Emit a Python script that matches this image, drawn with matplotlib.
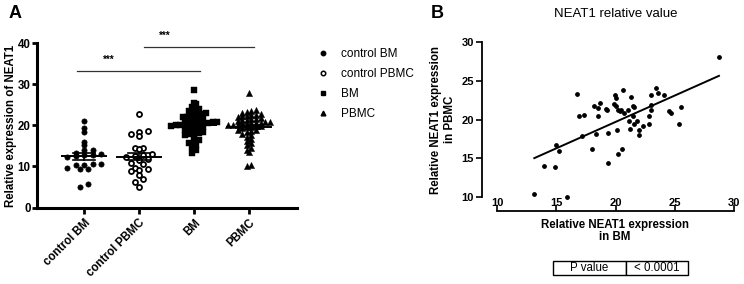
#!/usr/bin/python3

import numpy as np
import matplotlib
matplotlib.use("Agg")
import matplotlib.pyplot as plt
from matplotlib.lines import Line2D

#groups in panel A
groups = ["control BM", "control PBMC", "BM", "PBMC"]

ctrl_bm = [21.0, 19.3, 18.3, 16.0, 15.3, 14.1, 13.9, 13.2, 13.0, 12.9, 12.7,
           12.5, 12.3, 10.6, 10.5, 10.4, 10.3, 9.6, 9.5, 9.5, 5.8, 4.9]

ctrl_pbmc = [22.8, 18.6, 18.3, 18.0, 17.4, 14.5, 14.4, 14.3, 13.0, 12.8, 12.6,
             12.2, 11.8, 11.5, 10.8, 10.5, 9.6, 9.3, 9.2, 9.0, 7.9, 7.0, 6.2, 5.0]

bm = [28.7, 25.4, 25.2, 24.5, 24.0, 23.8, 23.5, 23.0, 22.8, 22.5, 22.3, 22.0,
      22.0, 21.8, 21.5, 21.3, 21.2, 21.0, 20.9, 20.8, 20.6, 20.5, 20.4, 20.3,
      20.2, 20.1, 20.0, 20.0, 19.8, 19.6, 19.5, 19.3, 19.0, 18.8, 18.5, 18.2,
      18.0, 17.8, 17.6, 17.3, 16.5, 16.0, 15.8, 15.2, 14.8, 14.0, 13.3]

pbmc = [28.0, 23.8, 23.5, 23.3, 23.0, 22.8, 22.6, 22.5, 22.3, 22.2, 22.0, 21.8,
        21.6, 21.5, 21.3, 21.2, 21.0, 20.9, 20.8, 20.7, 20.6, 20.5, 20.4, 20.3,
        20.2, 20.1, 20.0, 19.9, 19.8, 19.6, 19.5, 19.3, 19.0, 18.8, 18.6, 18.3,
        18.0, 17.6, 17.2, 16.8, 16.2, 15.8, 15.3, 14.5, 14.0, 13.5, 10.3, 10.0]

#panel B, NEAT1 in BM vs PBMC
neat_bm = [28.73, 16.78, 20.66, 19.98, 20.04, 18.2, 18.7, 18.5, 19.2, 19.3,
           19.9, 20.07, 21.3, 20.2, 20.4, 20.5, 20.7, 21.05, 21.45, 21.6,
           23.4, 23.6, 24.1, 23.0, 23.0, 23.0, 22.85, 24.5, 24.7, 25.5,
           25.4, 22.8, 22.3, 22.0, 22.0, 21.8, 21.6, 21.2, 21.1, 21.5,
           20.15, 19.4, 18.35, 18.0, 17.2, 16.95, 17.3, 18.55, 20.2, 20.55,
           19.4, 14.95, 15.26, 13.97, 14.9, 15.9, 13.15]
neat_pbmc = [28.1, 23.25, 23.8, 23.1, 22.8, 21.8, 22.1, 21.5, 21.4, 21.2,
             22.0, 21.8, 22.9, 21.2, 21.1, 21.2, 20.8, 21.2, 21.7, 21.6,
             24.1, 23.4, 23.1, 23.1, 21.9, 21.2, 20.5, 21.1, 20.8, 21.6,
             19.4, 19.4, 19.2, 18.7, 18.0, 19.8, 19.4, 18.8, 19.8, 20.5,
             18.6, 18.3, 18.1, 16.2, 17.9, 20.5, 20.6, 20.5, 15.6, 16.15,
             14.4, 16.7, 16.0, 14.0, 13.9, 10.0, 10.35]

ticks_a = [0, 10, 20, 30, 40]
ticks_b = [10, 15, 20, 25, 30]

plt.rcParams["font.family"] = ["Liberation Sans", "DejaVu Sans"]

#_____________________________________________________________________________
def main():

    fig = plt.figure(figsize=(7.44, 2.84), dpi=100)

    plot_a(fig)
    plot_b(fig)

    fig.text(15/744, 1-13/284, "A", fontsize=13, fontweight="bold", ha="center", va="center")
    fig.text(437/744, 1-13/284, "B", fontsize=13, fontweight="bold", ha="center", va="center")

    fig.savefig("out.png", dpi=100)
    plt.close()

#main

#_____________________________________________________________________________
def swarm(vals, h=1.2, s=8.5, xpx=55.):

    #graphpad-like scatter: points in the same y bin go side by side
    vals = np.asarray(vals, dtype=float)
    offs = np.zeros(len(vals))
    bins = np.floor(vals/h).astype(int)
    for b in np.unique(bins):
        idx = np.where(bins == b)[0]
        idx = idx[np.argsort(vals[idx])]
        n = len(idx)
        for k, i in enumerate(idx):
            offs[i] = (k - (n-1)/2.)*s/xpx

    return offs

#swarm

#_____________________________________________________________________________
def plot_a(fig):

    ax = fig.add_axes([37/744, 1-207.5/284, 260/744, (207.5-43.3)/284])

    data = [ctrl_bm, ctrl_pbmc, bm, pbmc]
    style = [
        dict(marker="o", s=14, facecolors="black", edgecolors="black", linewidths=0.5),
        dict(marker="o", s=13, facecolors="white", edgecolors="black", linewidths=1.3),
        dict(marker="s", s=17, facecolors="black", edgecolors="black", linewidths=0.3),
        dict(marker="^", s=20, facecolors="black", edgecolors="black", linewidths=0.3),
    ]
    binh = [1.2, 1.2, 1.1, 1.0]
    step = [8.5, 8.5, 4.6, 4.6]

    for i, v in enumerate(data):
        x = i + swarm(v, h=binh[i], s=step[i])
        ax.scatter(x, v, zorder=3, clip_on=False, **style[i])

        m = np.mean(v)
        se = np.std(v, ddof=1)/np.sqrt(len(v))
        ax.plot([i-0.4, i+0.4], [m, m], color="black", lw=1.4, zorder=4)
        ax.plot([i, i], [m-se, m+se], color="black", lw=1.2, zorder=4)
        ax.plot([i-0.2, i+0.2], [m+se, m+se], color="black", lw=1.2, zorder=4)
        ax.plot([i-0.2, i+0.2], [m-se, m-se], color="black", lw=1.2, zorder=4)

    #significance bars
    ax.plot([-0.12, 2.1], [33.3, 33.3], color="#333333", lw=0.9, clip_on=False)
    ax.text(0.45, 35.9, "***", ha="center", va="center", fontsize=7, fontweight="bold")
    ax.plot([1.09, 3.08], [39.0, 39.0], color="#333333", lw=0.9, clip_on=False)
    ax.text(1.47, 41.7, "***", ha="center", va="center", fontsize=7, fontweight="bold")

    ax.set_xlim(-0.855, 3.87)
    ax.set_ylim(0, 40)
    ax.set_yticks(ticks_a)
    ax.set_xticks(range(len(groups)))
    ax.set_xticklabels(groups, rotation=45, ha="right", rotation_mode="anchor")

    for lab in ax.get_xticklabels() + ax.get_yticklabels():
        lab.set_fontweight("bold")
        lab.set_fontsize(8.3)

    ax.spines["top"].set_visible(False)
    ax.spines["right"].set_visible(False)
    ax.spines["left"].set_linewidth(2.2)
    ax.spines["bottom"].set_linewidth(2.2)
    ax.tick_params(axis="y", width=2.0, length=3.5, pad=1)
    ax.tick_params(axis="x", width=2.0, length=4.5, pad=2)

    ax.set_ylabel("Relative expression of NEAT1", fontsize=8.3, fontweight="bold")
    ax.yaxis.set_label_coords(-20/260, 0.5)

    #legend
    hnd = [
        Line2D([], [], ls="none", marker="o", ms=3.2, mfc="black", mec="black"),
        Line2D([], [], ls="none", marker="o", ms=3.2, mfc="white", mec="black", mew=1.1),
        Line2D([], [], ls="none", marker="s", ms=3.2, mfc="black", mec="black"),
        Line2D([], [], ls="none", marker="^", ms=3.4, mfc="black", mec="black"),
    ]
    fig.legend(hnd, groups, loc="upper left", bbox_to_anchor=(317/744, 1-48/284),
               frameon=False, fontsize=8.5, handlelength=1.0, handletextpad=1.0,
               labelspacing=0.68, borderpad=0, borderaxespad=0)

#plot_a

#_____________________________________________________________________________
def plot_b(fig):

    ax = fig.add_axes([497/744, 1-197/284, 237/744, 155/284])

    ax.scatter(neat_bm, neat_pbmc, s=6, color="black", zorder=3, clip_on=False)

    k, q = np.polyfit(neat_bm, neat_pbmc, 1)
    xl = np.array([min(neat_bm), max(neat_bm)])
    ax.plot(xl, k*xl + q, color="black", lw=1.4)

    ax.set_xlim(10, 30)
    ax.set_ylim(10, 30)
    ax.set_xticks(ticks_b)
    ax.set_yticks(ticks_b)

    ax.spines["top"].set_visible(False)
    ax.spines["right"].set_visible(False)
    ax.spines["left"].set_position(("outward", 15*0.72))
    ax.spines["bottom"].set_position(("outward", 14*0.72))
    ax.spines["left"].set_linewidth(1.3)
    ax.spines["bottom"].set_linewidth(1.3)

    ax.tick_params(axis="y", width=1.2, length=4, pad=2, labelsize=8)
    ax.tick_params(axis="x", direction="in", width=1.2, length=4, pad=-9.5, labelsize=8)
    for lab in ax.get_xticklabels() + ax.get_yticklabels():
        lab.set_fontweight("bold")

    ax.set_title("NEAT1 relative value", fontsize=9.5, pad=18)
    ax.set_ylabel("Relative NEAT1 expression\nin PBMC", fontsize=8.3, fontweight="bold", labelpad=4)
    fig.text(615/744, 1-231/284, "Relative NEAT1 expression\nin BM", fontsize=8.3,
             fontweight="bold", ha="center", va="center", linespacing=1.1)

    #p value box
    tx = fig.add_axes([553/744, 1-275/284, 135/744, 14.3/284])
    tx.axis("off")
    tb = tx.table(cellText=[["P value", "< 0.0001"]], colWidths=[72.7, 62.3],
                  cellLoc="center", bbox=[0, 0, 1, 1])
    tb.auto_set_font_size(False)
    tb.set_fontsize(8.3)
    for c in tb.get_celld().values():
        c.set_linewidth(1.0)

#plot_b

#_____________________________________________________________________________
if __name__ == "__main__":

    main()
